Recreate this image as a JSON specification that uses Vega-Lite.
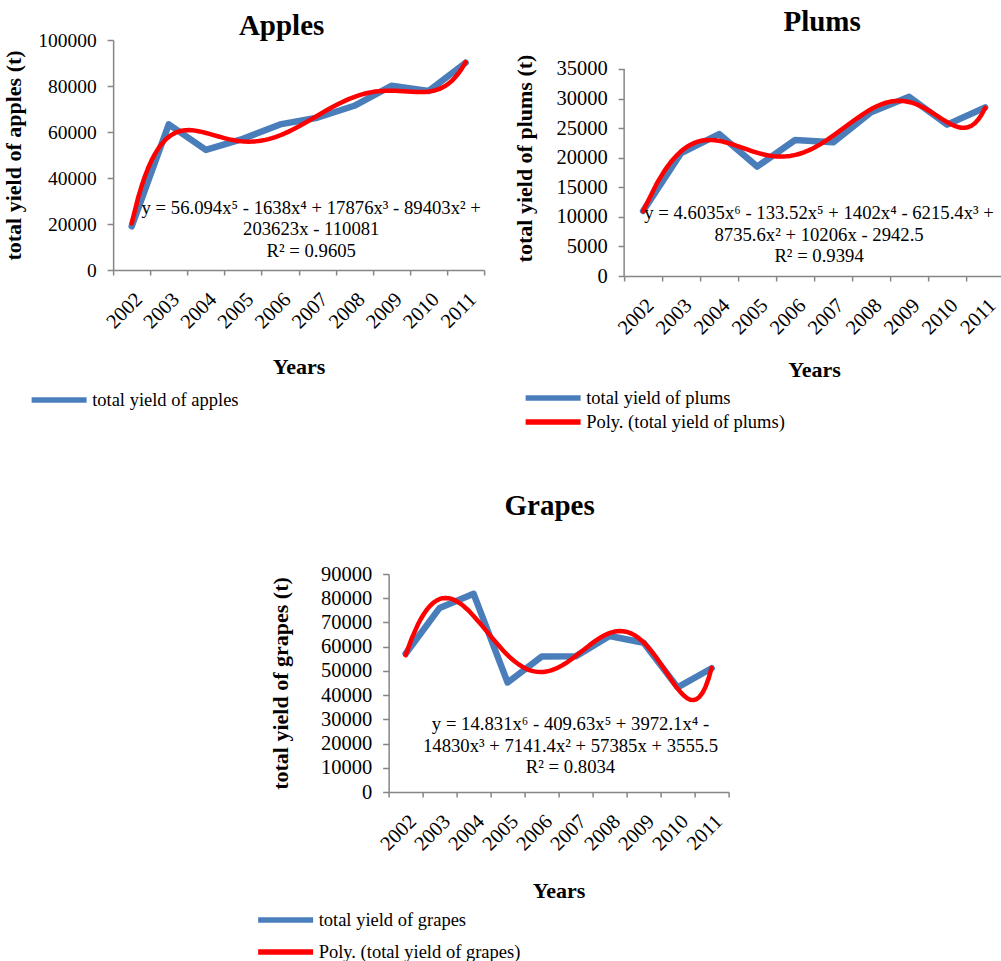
{
  "$schema": "https://vega.github.io/schema/vega-lite/v6.json",
  "padding": {"left": 2, "top": 8, "right": 0, "bottom": 0},
  "background": "white",
  "datasets": {
    "apples": [
      {"year": "2002", "x": 1, "yield": 19000},
      {"year": "2003", "x": 2, "yield": 63300},
      {"year": "2004", "x": 3, "yield": 52200},
      {"year": "2005", "x": 4, "yield": 57000},
      {"year": "2006", "x": 5, "yield": 63300},
      {"year": "2007", "x": 6, "yield": 66200},
      {"year": "2008", "x": 7, "yield": 71400},
      {"year": "2009", "x": 8, "yield": 80100},
      {"year": "2010", "x": 9, "yield": 77800},
      {"year": "2011", "x": 10, "yield": 90100}
    ],
    "plums": [
      {"year": "2002", "x": 1, "yield": 11000},
      {"year": "2003", "x": 2, "yield": 20800},
      {"year": "2004", "x": 3, "yield": 24000},
      {"year": "2005", "x": 4, "yield": 18500},
      {"year": "2006", "x": 5, "yield": 23000},
      {"year": "2007", "x": 6, "yield": 22600},
      {"year": "2008", "x": 7, "yield": 27700},
      {"year": "2009", "x": 8, "yield": 30300},
      {"year": "2010", "x": 9, "yield": 25600},
      {"year": "2011", "x": 10, "yield": 28500}
    ],
    "grapes": [
      {"year": "2002", "x": 1, "yield": 57100},
      {"year": "2003", "x": 2, "yield": 76000},
      {"year": "2004", "x": 3, "yield": 81800},
      {"year": "2005", "x": 4, "yield": 45200},
      {"year": "2006", "x": 5, "yield": 55900},
      {"year": "2007", "x": 6, "yield": 56000},
      {"year": "2008", "x": 7, "yield": 64400},
      {"year": "2009", "x": 8, "yield": 61600},
      {"year": "2010", "x": 9, "yield": 43200},
      {"year": "2011", "x": 10, "yield": 51100}
    ],
    "one": [{"k": 1}]
  },
  "config": {
    "font": "Liberation Serif",
    "view": {"stroke": null},
    "axis": {
      "domainColor": "#868686", "tickColor": "#868686", "domainWidth": 1.5, "tickWidth": 1.5,
      "labelColor": "#000000", "labelFont": "Liberation Serif",
      "titleColor": "#000000", "titleFont": "Liberation Serif", "titleFontWeight": "bold",
      "grid": false, "tickSize": 5, "labelOverlap": false
    },
    "axisY": {"labelOverlap": false, "labelSeparation": -6, "tickCount": 10, "tickSize": 6, "format": "d", "labelFontSize": 20.5, "labelPadding": 11, "titleFontSize": 22, "titlePadding": 9},
    "title": {"font": "Liberation Serif", "fontSize": 29, "fontWeight": "bold", "color": "#000000", "frame": "group"},
    "legend": {
      "orient": "none", "title": null, "direction": "vertical",
      "symbolType": "M-4,0H4", "symbolSize": 189, "symbolStrokeWidth": 5.5,
      "labelFont": "Liberation Serif", "labelFontSize": 18.5, "labelColor": "#000000", "labelLimit": 0,
      "labelOffset": 23, "padding": 0, "rowPadding": 2
    }
  },
  "spacing": 59,
  "center": true,
  "resolve": {"scale": {"color": "independent"}, "legend": {"color": "independent"}},
  "vconcat": [
    {
      "spacing": 28,
      "resolve": {"scale": {"color": "independent"}, "legend": {"color": "independent"}},
      "hconcat": [
        {
          "title": {"text": "Apples", "offset": -11, "dx": -17},
          "width": 371, "height": 230,
          "data": {"name": "apples"},
          "resolve": {"scale": {"x": "independent"}, "axis": {"x": "independent"}},
          "layer": [
            {
              "mark": {"type": "line", "strokeWidth": 6.5, "strokeJoin": "round", "strokeCap": "round"},
              "encoding": {
                "x": {"field": "year", "type": "ordinal", "scale": {"type": "band", "paddingInner": 0, "paddingOuter": 0},
                      "axis": {"title": "Years", "labelAngle": -45, "tickBand": "extent", "labelFontSize": 20.5, "labelPadding": 14, "labelOverlap": false, "titleFontSize": 22, "titlePadding": 24}},
                "y": {"field": "yield", "type": "quantitative", "scale": {"domain": [0, 100000], "nice": false},
                      "axis": {"title": "total yield of apples (t)", "values": [0, 10000, 20000, 30000, 40000, 50000, 60000, 70000, 80000, 90000, 100000], "format": "d", "labelOverlap": false, "labelSeparation": -6, "labelFontSize": 19.5, "titlePadding": 12}},
                "color": {"datum": "total yield of apples", "type": "nominal", "scale": {"range": ["#4A7EBB"]},
                          "legend": {"legendX": -64, "legendY": 350}}
              }
            },
            {
              "transform": [{"regression": "yield", "on": "x", "method": "poly", "order": 5, "extent": [1, 10]}],
              "mark": {"type": "line", "color": "#FF0000", "strokeWidth": 4.5, "strokeCap": "round", "strokeJoin": "round"},
              "encoding": {
                "x": {"field": "x", "type": "quantitative", "scale": {"domain": [0.5, 10.5], "nice": false, "zero": false}, "axis": null},
                "y": {"field": "yield", "type": "quantitative"}
              }
            },
            {
              "data": {"name": "one"},
              "mark": {"type": "text", "fontSize": 18.7, "lineHeight": 21.5, "align": "center", "baseline": "middle", "color": "#000000"},
              "encoding": {
                "x": {"datum": 5.84, "type": "quantitative", "scale": {"domain": [0.5, 10.5], "nice": false, "zero": false}, "axis": null},
                "y": {"datum": 26960, "type": "quantitative"},
                "text": {"value": ["y = 56.094x⁵ - 1638x⁴ + 17876x³ - 89403x² +", "203623x - 110081", "R² = 0.9605"]}
              }
            }
          ]
        },
        {
          "title": {"text": "Plums", "offset": 3, "dx": 8},
          "width": 380, "height": 236,
          "data": {"name": "plums"},
          "resolve": {"scale": {"x": "independent"}, "axis": {"x": "independent"}},
          "layer": [
            {
              "mark": {"type": "line", "strokeWidth": 6.5, "strokeJoin": "round", "strokeCap": "round"},
              "encoding": {
                "x": {"field": "year", "type": "ordinal", "scale": {"type": "band", "paddingInner": 0, "paddingOuter": 0},
                      "axis": {"title": "Years", "labelAngle": -45, "tickBand": "extent", "labelFontSize": 20.5, "labelPadding": 14, "labelOverlap": false, "titleFontSize": 22, "titlePadding": 21}},
                "y": {"field": "yield", "type": "quantitative", "scale": {"domain": [0, 39903], "nice": false},
                      "axis": {"title": "total yield of plums (t)", "domain": false, "values": [0, 5000, 10000, 15000, 20000, 25000, 30000, 35000], "format": "d", "labelOverlap": false, "titlePadding": 19}},
                "color": {"datum": "total yield of plums", "type": "nominal",
                          "scale": {"domain": ["total yield of plums", "Poly. (total yield of plums)"], "range": ["#4A7EBB", "#FF0000"]},
                          "legend": {"legendX": -81, "legendY": 348}}
              }
            },
            {
              "data": {"name": "one"},
              "mark": {"type": "rule", "color": "#868686", "strokeWidth": 1.5},
              "encoding": {
                "x": {"datum": 0.5, "type": "quantitative", "scale": {"domain": [0.5, 10.5], "nice": false, "zero": false}, "axis": null},
                "y": {"datum": 0, "type": "quantitative"},
                "y2": {"datum": 35000}
              }
            },
            {
              "transform": [{"regression": "yield", "on": "x", "method": "poly", "order": 6, "extent": [1, 10]}],
              "mark": {"type": "line", "strokeWidth": 4.5, "strokeCap": "round", "strokeJoin": "round"},
              "encoding": {
                "x": {"field": "x", "type": "quantitative", "scale": {"domain": [0.5, 10.5], "nice": false, "zero": false}, "axis": null},
                "y": {"field": "yield", "type": "quantitative"},
                "color": {"datum": "Poly. (total yield of plums)", "type": "nominal"}
              }
            },
            {
              "data": {"name": "one"},
              "mark": {"type": "text", "fontSize": 18.7, "lineHeight": 21.5, "align": "center", "baseline": "middle", "color": "#000000"},
              "encoding": {
                "x": {"datum": 5.63, "type": "quantitative", "scale": {"domain": [0.5, 10.5], "nice": false, "zero": false}, "axis": null},
                "y": {"datum": 10650, "type": "quantitative"},
                "text": {"value": ["y = 4.6035x⁶ - 133.52x⁵ + 1402x⁴ - 6215.4x³ +", "8735.6x² + 10206x - 2942.5", "R² = 0.9394"]}
              }
            }
          ]
        }
      ]
    },
    {
      "title": {"text": "Grapes", "offset": 43, "dx": -9},
      "width": 340, "height": 218,
      "data": {"name": "grapes"},
      "resolve": {"scale": {"x": "independent"}, "axis": {"x": "independent"}},
      "layer": [
        {
          "mark": {"type": "line", "strokeWidth": 6.5, "strokeJoin": "round", "strokeCap": "round"},
          "encoding": {
            "x": {"field": "year", "type": "ordinal", "scale": {"type": "band", "paddingInner": 0, "paddingOuter": 0},
                  "axis": {"title": "Years", "labelAngle": -45, "tickBand": "extent", "labelFontSize": 20.5, "labelPadding": 14, "labelOverlap": false, "titleFontSize": 22, "titlePadding": 26}},
            "y": {"field": "yield", "type": "quantitative", "scale": {"domain": [0, 90000], "nice": false},
                  "axis": {"title": "total yield of grapes (t)", "values": [0, 10000, 20000, 30000, 40000, 50000, 60000, 70000, 80000, 90000], "format": "d", "labelOverlap": false, "titlePadding": 28}},
            "color": {"datum": "total yield of grapes", "type": "nominal",
                      "scale": {"domain": ["total yield of grapes", "Poly. (total yield of grapes)"], "range": ["#4A7EBB", "#FF0000"]},
                      "legend": {"legendX": -113, "legendY": 336, "rowPadding": 10}}
          }
        },
        {
          "transform": [{"regression": "yield", "on": "x", "method": "poly", "order": 6, "extent": [1, 10]}],
          "mark": {"type": "line", "strokeWidth": 4.5, "strokeCap": "round", "strokeJoin": "round"},
          "encoding": {
            "x": {"field": "x", "type": "quantitative", "scale": {"domain": [0.5, 10.5], "nice": false, "zero": false}, "axis": null},
            "y": {"field": "yield", "type": "quantitative"},
            "color": {"datum": "Poly. (total yield of grapes)", "type": "nominal"}
          }
        },
        {
          "data": {"name": "one"},
          "mark": {"type": "text", "fontSize": 18.7, "lineHeight": 21.5, "align": "center", "baseline": "middle", "color": "#000000"},
          "encoding": {
            "x": {"datum": 5.85, "type": "quantitative", "scale": {"domain": [0.5, 10.5], "nice": false, "zero": false}, "axis": null},
            "y": {"datum": 28070, "type": "quantitative"},
            "text": {"value": ["y = 14.831x⁶ - 409.63x⁵ + 3972.1x⁴ -", "14830x³ + 7141.4x² + 57385x + 3555.5", "R² = 0.8034"]}
          }
        }
      ]
    }
  ]
}
